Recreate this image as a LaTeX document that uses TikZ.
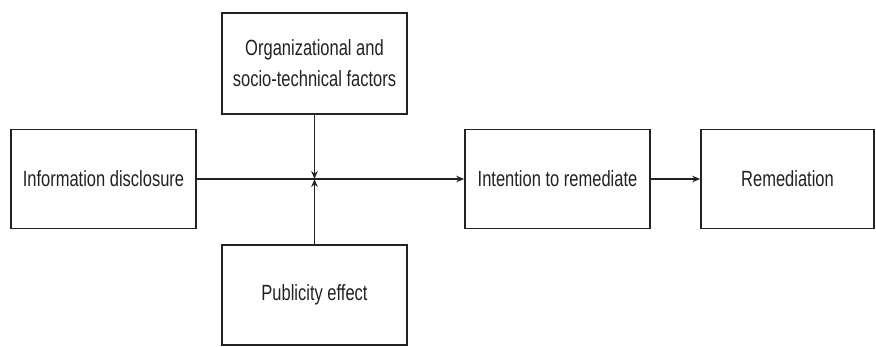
\documentclass[tikz,border=0pt]{standalone}
\usepackage{fontspec}
\setmainfont[FakeStretch=0.75]{Liberation Sans}
\usetikzlibrary{arrows.meta}
\definecolor{ink}{HTML}{222222}
\begin{document}
\begin{tikzpicture}[x=1pt,y=-1pt,
  box/.style={draw=ink,line width=1.6pt,inner sep=0pt,align=center,
    text=ink,font=\fontsize{22}{31}\selectfont},
  link/.style={draw=ink,line width=1.6pt,-{Stealth[length=8pt,width=6.5pt]}}]
  \useasboundingbox (0,0) rectangle (876,347);
  % factor boxes
  \node[box,minimum width=185pt,minimum height=101pt] (org) at (314.5,63.5)
    {Organizational and\\socio-technical factors};
  \node[box,minimum width=185pt,minimum height=99pt] (info) at (103.5,179)
    {Information disclosure};
  \node[box,minimum width=185pt,minimum height=100pt] (pub) at (314.5,295)
    {Publicity effect};
  \node[box,minimum width=185pt,minimum height=99pt] (intent) at (557.5,179)
    {Intention to remediate};
  \node[box,minimum width=173pt,minimum height=99pt] (rem) at (787.5,179)
    {Remediation};
  % moderating point on the main path
  \coordinate (mod) at (314.5,179);
  % connectors
  \draw[link] (info.east) -- (intent.west);
  \draw[link] (intent.east) -- (rem.west);
  \draw[link] (org.south) -- (mod);
  \draw[link] (pub.north) -- (mod);
\end{tikzpicture}
\end{document}
